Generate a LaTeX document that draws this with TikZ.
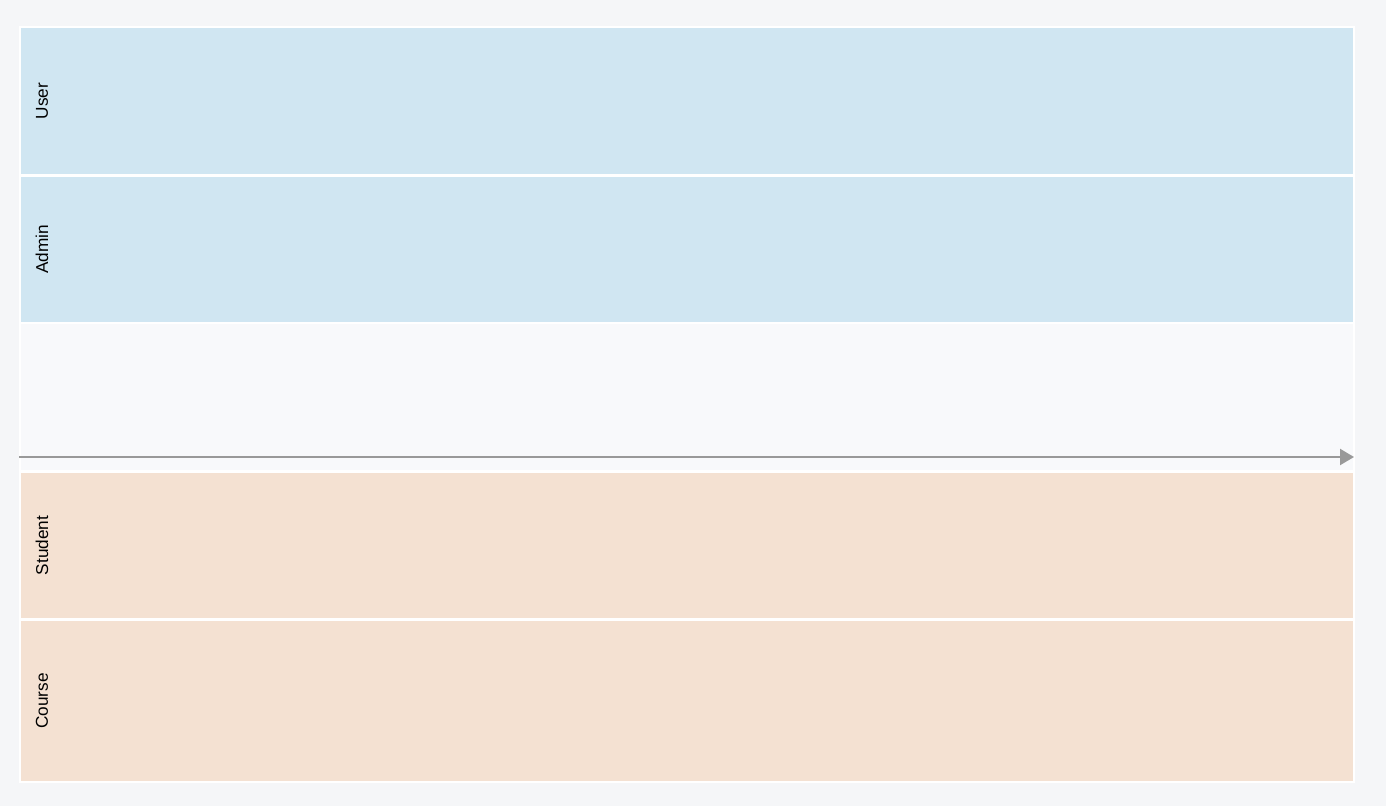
\documentclass[tikz,border=0pt]{standalone}
\usepackage{fontspec}
\setmainfont{Liberation Sans}
\usetikzlibrary{arrows.meta}
\definecolor{pagebg}{HTML}{F5F6F8}
\definecolor{midbg}{HTML}{F8F9FB}
\definecolor{userblue}{HTML}{D0E6F2}
\definecolor{entitypeach}{HTML}{F4E1D2}
\definecolor{axisgray}{HTML}{999999}
\tikzset{
	lane/.style={inner sep=0pt, minimum width=1332pt},
	lanelabel/.style={rotate=90, inner sep=0pt, font=\fontsize{17.2}{20}\selectfont},
}
\begin{document}
\begin{tikzpicture}[x=1pt, y=-1pt]
		\fill[pagebg] (0, 0) rectangle (1386, 806);
		\fill[white] (19, 26) rectangle (1355, 783);
		\node[lane, fill=userblue, minimum height=146pt] (user) at (687, 101) {};
		\node[lane, fill=userblue, minimum height=145pt] (admin) at (687, 249.5) {};
		\node[lane, fill=midbg, minimum height=146pt] (middle) at (687, 397) {};
		\node[lane, fill=entitypeach, minimum height=145pt] (student) at (687, 545.5) {};
		\node[lane, fill=entitypeach, minimum height=160pt] (course) at (687, 701) {};
		\node[lanelabel] (userlabel) at (42, 101) {User};
		\node[lanelabel] (adminlabel) at (42, 249.5) {Admin};
		\node[lanelabel] (studentlabel) at (42, 545.5) {Student};
		\node[lanelabel] (courselabel) at (42, 701) {Course};
		\coordinate (axisstart) at (19, 457);
		\coordinate (axisend) at (1354, 457);
		\draw[axisgray, line width=2.2pt, -{Triangle[length=14pt, width=16pt]}] (axisstart) -- (axisend);
		\end{tikzpicture}
\end{document}
